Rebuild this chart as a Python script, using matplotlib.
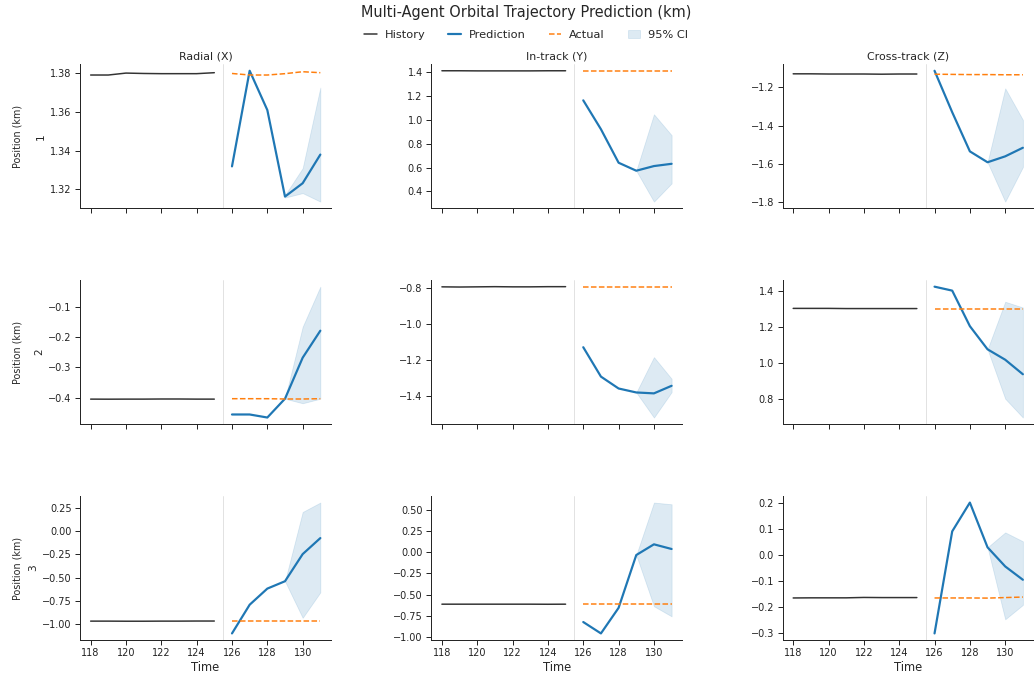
import numpy as np
import matplotlib
matplotlib.use("Agg")
import matplotlib.pyplot as plt
import seaborn as sns

sns.set_theme(style="ticks", context="paper")
plt.rcParams['font.family'] = ['DejaVu Sans']

t_hist = [118, 119, 120, 121, 122, 123, 124, 125]
t_pred = [126, 127, 128, 129, 130, 131]
t_ci = [129, 130, 131]

components = ["Radial (X)", "In-track (Y)", "Cross-track (Z)"]
agents = ["1", "2", "3"]

hist_1x = [1.3790, 1.3790, 1.3800, 1.3798, 1.3797, 1.3797, 1.3797, 1.3802]
hist_1y = [1.411, 1.411, 1.410, 1.410, 1.410, 1.410, 1.411, 1.411]
hist_1z = [-1.129, -1.129, -1.130, -1.130, -1.130, -1.131, -1.130, -1.130]
hist_2x = [-0.4044, -0.4046, -0.4044, -0.4044, -0.4040, -0.4040, -0.4044, -0.4044]
hist_2y = [-0.796, -0.797, -0.796, -0.795, -0.796, -0.796, -0.795, -0.795]
hist_2z = [1.303, 1.303, 1.303, 1.302, 1.302, 1.302, 1.302, 1.302]
hist_3x = [-0.968, -0.968, -0.969, -0.969, -0.968, -0.968, -0.967, -0.967]
hist_3y = [-0.612, -0.612, -0.612, -0.612, -0.612, -0.612, -0.613, -0.612]
hist_3z = [-0.1645, -0.1640, -0.1640, -0.1640, -0.1625, -0.1630, -0.1630, -0.1630]

actual_1x = [1.3798, 1.3790, 1.3790, 1.3797, 1.3807, 1.3802]
actual_1y = [1.411, 1.411, 1.411, 1.411, 1.411, 1.411]
actual_1z = [-1.131, -1.132, -1.133, -1.133, -1.134, -1.134]
actual_2x = [-0.403, -0.403, -0.403, -0.404, -0.404, -0.403]
actual_2y = [-0.796, -0.796, -0.796, -0.796, -0.796, -0.796]
actual_2z = [1.301, 1.301, 1.301, 1.301, 1.301, 1.301]
actual_3x = [-0.968, -0.968, -0.968, -0.968, -0.968, -0.968]
actual_3y = [-0.612, -0.612, -0.612, -0.612, -0.612, -0.612]
actual_3z = [-0.1645, -0.1645, -0.1645, -0.1650, -0.1630, -0.1610]

pred_1x = [1.3318, 1.3812, 1.3609, 1.3162, 1.3231, 1.3379]
pred_1y = [1.163, 0.921, 0.640, 0.573, 0.612, 0.631]
pred_1z = [-1.113, -1.330, -1.535, -1.592, -1.561, -1.516]
pred_2x = [-0.455, -0.455, -0.465, -0.403, -0.268, -0.179]
pred_2y = [-1.131, -1.294, -1.360, -1.382, -1.387, -1.345]
pred_2z = [1.424, 1.402, 1.204, 1.075, 1.017, 0.936]
pred_3x = [-1.100, -0.792, -0.619, -0.540, -0.249, -0.077]
pred_3y = [-0.822, -0.956, -0.655, -0.034, 0.092, 0.037]
pred_3z = [-0.300, 0.090, 0.200, 0.029, -0.044, -0.095]

ci_lo_1x = [1.3157, 1.3180, 1.3136]
ci_hi_1x = [1.3170, 1.3309, 1.3725]
ci_lo_1y = [0.573, 0.314, 0.467]
ci_hi_1y = [0.573, 1.046, 0.871]
ci_lo_1z = [-1.592, -1.798, -1.617]
ci_hi_1z = [-1.592, -1.205, -1.370]
ci_lo_2x = [-0.403, -0.418, -0.403]
ci_hi_2x = [-0.403, -0.166, -0.034]
ci_lo_2y = [-1.382, -1.521, -1.380]
ci_hi_2y = [-1.382, -1.186, -1.306]
ci_lo_2z = [1.075, 0.800, 0.695]
ci_hi_2z = [1.075, 1.340, 1.308]
ci_lo_3x = [-0.540, -0.932, -0.659]
ci_hi_3x = [-0.540, 0.203, 0.304]
ci_lo_3y = [-0.034, -0.636, -0.755]
ci_hi_3y = [-0.034, 0.583, 0.563]
ci_lo_3z = [0.029, -0.246, -0.191]
ci_hi_3z = [0.029, 0.086, 0.052]

hist = [[hist_1x, hist_1y, hist_1z], [hist_2x, hist_2y, hist_2z], [hist_3x, hist_3y, hist_3z]]
actual = [[actual_1x, actual_1y, actual_1z], [actual_2x, actual_2y, actual_2z], [actual_3x, actual_3y, actual_3z]]
pred = [[pred_1x, pred_1y, pred_1z], [pred_2x, pred_2y, pred_2z], [pred_3x, pred_3y, pred_3z]]
ci_lo = [[ci_lo_1x, ci_lo_1y, ci_lo_1z], [ci_lo_2x, ci_lo_2y, ci_lo_2z], [ci_lo_3x, ci_lo_3y, ci_lo_3z]]
ci_hi = [[ci_hi_1x, ci_hi_1y, ci_hi_1z], [ci_hi_2x, ci_hi_2y, ci_hi_2z], [ci_hi_3x, ci_hi_3y, ci_hi_3z]]

DPI = 72
W, H = 1034, 676
fig, axes = plt.subplots(3, 3, figsize=(W / DPI, H / DPI), dpi=DPI, sharex=True)
fig.subplots_adjust(left=0.0774, right=0.9995, top=0.905, bottom=0.0533, wspace=0.4, hspace=0.5)

blue = "#1f77b4"
orange = "#ff7f0e"
for i in range(3):
    for j in range(3):
        ax = axes[i, j]
        ax.plot(t_hist, hist[i][j], color="#333333", lw=1.5, label="History")
        ax.plot(t_pred, pred[i][j], color=blue, lw=2.2, label="Prediction")
        ax.plot(t_pred, actual[i][j], color=orange, lw=1.5, ls="--", label="Actual")
        ax.fill_between(t_ci, ci_lo[i][j], ci_hi[i][j], color=blue, alpha=0.15, lw=0.8,
                        label="95% CI")
        ax.axvline(125.5, color="#cccccc", lw=0.8, alpha=0.7)
        ax.tick_params(labelsize=9.8, length=5, labelcolor="#222222")
        sns.despine(ax=ax)
        if i == 0:
            ax.set_title(components[j], fontsize=11, pad=5)
        if j == 0:
            ax.set_ylabel(agents[i], fontsize=10.5, labelpad=4)
            pos = ax.get_position()
            fig.text(17 / W, (pos.y0 + pos.y1) / 2, "Position (km)", rotation=90,
                     ha="center", va="center", fontsize=9.6, color="#262626")
        if i == 2:
            ax.set_xlabel("Time", fontsize=11.5, labelpad=3)
        ax.set_xticks([118, 120, 122, 124, 126, 128, 130])
        ax.set_xlim(117.4, 131.6)

handles, labels = axes[0, 0].get_legend_handles_labels()
fig.legend(handles, labels, loc="center", ncol=4, frameon=False, fontsize=11.4,
           bbox_to_anchor=(0.509, 1 - 35 / H), handlelength=1.1, handletextpad=0.7,
           columnspacing=2.0)
fig.suptitle("Multi-Agent Orbital Trajectory Prediction (km)", fontsize=14.5,
             x=0.509, y=1 - 12 / H, va="center")

fig.savefig("out.png", dpi=DPI)
